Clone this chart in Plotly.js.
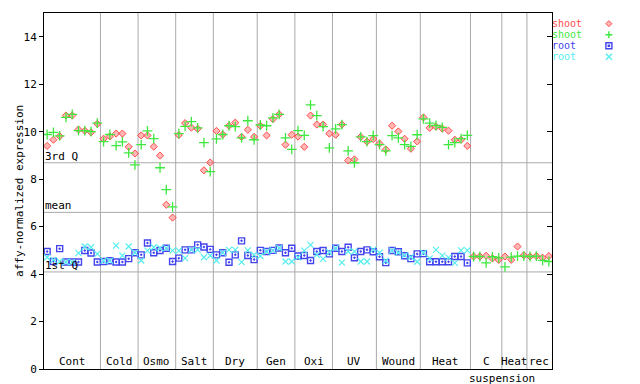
<!DOCTYPE html>
<html>
<head>
<meta charset="utf-8">
<script src="https://cdn.plot.ly/plotly-3.0.1.min.js"></script>
<style>html,body{margin:0;padding:0;background:#fff}#chart{width:640px;height:384px}</style>
</head>
<body>
<div id="chart"></div>
<script>
// Group labels and number of samples in each group
const groupNames = ["Cont","Cold","Osmo","Salt","Dry","Gen","Oxi","UV","Wound","Heat","C","Heat","rec"];
const groupSizes = [9,6,6,6,7,6,6,7,7,8,5,4,4];

// Reference lines (quantiles / mean)
const statNames = ["3rd Q","mean","1st Q"];
const statValues = [8.69, 6.60, 4.09];

// shoot replicate 1 (red diamonds)
const shootA = [9.40,9.66,9.81,10.68,10.68,10.09,10.04,9.97,10.33,
  9.70,9.80,9.92,9.92,9.36,9.08,
  9.84,9.84,9.37,8.99,6.92,6.38,
  9.86,10.36,10.17,10.12,8.37,8.70,
  10.03,9.88,10.25,10.38,9.78,10.08,9.78,
  10.25,9.84,10.53,10.73,9.45,9.87,
  9.79,9.36,10.68,10.30,10.30,9.92,
  9.87,10.30,8.79,8.83,9.78,9.58,9.69,
  9.50,9.25,10.25,10.01,9.70,9.28,9.59,
  10.60,10.16,10.21,10.13,10.04,9.66,9.66,9.40,
  4.74,4.74,4.77,4.66,4.60,
  4.74,4.60,5.16,4.79,
  4.74,4.76,4.69,4.76];

// shoot replicate 2 (green crosses)
const shootB = [9.88,9.97,9.82,10.60,10.73,10.04,10.04,10.00,10.36,
  9.58,9.88,9.41,9.57,9.11,8.60,
  9.45,10.03,9.71,8.48,7.56,6.83,
  9.92,10.22,10.42,10.16,9.54,8.32,
  9.70,9.88,10.25,10.21,9.74,10.46,9.66,
  10.28,10.25,10.58,10.73,9.74,9.25,
  10.04,9.84,11.13,10.68,10.21,9.32,
  10.12,10.30,9.19,8.69,9.78,9.58,9.83,
  9.45,9.19,9.83,9.74,9.45,9.38,9.87,
  10.54,10.36,10.26,10.18,9.45,9.54,9.71,9.84,
  4.74,4.74,4.47,4.73,4.68,
  4.30,4.71,4.76,4.76,
  4.74,4.76,4.58,4.53];

// root replicate 1 (blue squares) - no root data for suspension samples
const rootA = [4.95,4.53,5.07,4.51,4.51,4.51,4.99,4.89,4.51,
  4.53,4.56,4.51,4.51,4.65,4.90,
  4.81,5.31,4.90,4.99,5.09,4.53,
  4.67,5.02,5.02,5.23,5.14,5.04,
  4.81,4.90,4.50,4.81,5.40,4.78,4.61,
  5.00,4.95,5.00,5.10,4.90,5.09,
  4.76,4.78,4.57,4.95,4.99,4.85,
  5.09,4.95,5.13,4.69,4.95,5.02,4.94,
  4.73,4.48,4.99,4.94,4.77,4.65,4.85,
  4.86,4.52,4.52,4.52,4.52,4.74,4.74,4.47];

// root replicate 2 (cyan x)
const rootB = [4.71,4.60,4.53,4.51,4.51,4.88,5.16,5.13,4.85,
  4.56,4.56,5.20,4.78,5.16,4.90,
  4.57,4.99,5.13,5.09,5.09,4.99,
  4.99,4.67,5.02,5.02,4.71,4.78,
  4.57,4.90,5.02,5.02,4.50,5.00,4.81,
  4.76,4.95,5.00,5.10,4.53,4.53,
  4.70,4.99,5.23,4.81,4.64,4.92,
  5.09,4.48,4.95,4.95,4.53,4.53,5.03,
  4.90,4.56,4.99,4.90,4.79,4.72,4.52,
  4.90,4.66,5.02,4.78,4.69,4.47,5.00,5.00];

const seriesNames = ["shoot","shoot","root","root"];
const seriesColors = ["#ff4d4d","#3fe83f","#4444ee","#55eeee"];

const FONT = "DejaVu Sans Mono, Liberation Mono, monospace";
const idx = a => a.map((_, i) => i);
const nSamples = shootA.length;

const traces = [
  {x: idx(shootA), y: shootA, type:"scatter", mode:"markers", name:seriesNames[0],
   marker:{symbol:"diamond", size:5.5, color:"rgba(255,110,110,0.5)", line:{width:1, color:seriesColors[0]}}},
  {x: idx(shootB), y: shootB, type:"scatter", mode:"markers", name:seriesNames[1],
   marker:{symbol:"cross-thin-open", size:7, color:seriesColors[1], line:{width:1.3, color:seriesColors[1]}}},
  {x: idx(rootA), y: rootA, type:"scatter", mode:"markers", name:seriesNames[2],
   marker:{symbol:"square-open-dot", size:6, color:seriesColors[2], line:{width:1.4, color:seriesColors[2]}}},
  {x: idx(rootB), y: rootB, type:"scatter", mode:"markers", name:seriesNames[3],
   marker:{symbol:"x-thin-open", size:6, color:seriesColors[3], line:{width:1.2, color:seriesColors[3]}}},
  {x: [], y: [], yaxis:"y2", type:"scatter", mode:"markers", showlegend:false, hoverinfo:"skip"}
];

const shapes = [];
const annotations = [];
let start = 0;
groupSizes.forEach((n, g) => {
  const end = start + n;
  if (end < nSamples) {
    shapes.push({type:"line", xref:"x", yref:"paper", x0:end-0.5, x1:end-0.5, y0:0, y1:1,
      line:{color:"#aaaaaa", width:1}, layer:"below"});
  }
  annotations.push({x:(start+end-1)/2, y:0, xref:"x", yref:"y", yanchor:"bottom", yshift:-1,
    text:groupNames[g], showarrow:false, font:{family:FONT, size:11, color:"#000"}});
  start = end;
});
// "suspension" under the suspension groups
annotations.push({x:groupSizes.slice(0,11).reduce((a,b)=>a+b,0)-0.5, y:0, xref:"x", yref:"y",
  yanchor:"top", yshift:-1, text:"suspension", showarrow:false, font:{family:FONT, size:11, color:"#000"}});

statValues.forEach((v, k) => {
  shapes.push({type:"line", xref:"paper", yref:"y", x0:0, x1:1, y0:v, y1:v,
    line:{color:"#aaaaaa", width:1}, layer:"below"});
  annotations.push({x:0, y:v, xref:"paper", yref:"y", xanchor:"left", yanchor:"bottom", xshift:-1, yshift:-2,
    text:statNames[k], showarrow:false, font:{family:FONT, size:11, color:"#000"}});
});

// Legend (text then symbol), drawn at the right
const legY = [0.970, 0.939, 0.908, 0.877];
const legSym = ["diamond","cross","square","x"];
seriesNames.forEach((nm, k) => {
  annotations.push({x:0.998, y:legY[k], xref:"paper", yref:"paper", xanchor:"left", yanchor:"middle",
    text:nm, showarrow:false, borderpad:0, font:{family:FONT, size:10, color:seriesColors[k]}});
});
const lx = 1.112;
const sym = {
  diamond:"M 0 3 L 3 0 L 0 -3 L -3 0 Z",
  cross:"M -3.5 0 L 3.5 0 M 0 -3.5 L 0 3.5",
  square:"M -3 -3 L 3 -3 L 3 3 L -3 3 Z M -0.6 -0.6 L 0.6 -0.6 L 0.6 0.6 L -0.6 0.6 Z",
  x:"M -3 -3 L 3 3 M -3 3 L 3 -3"
};
legSym.forEach((s, k) => {
  shapes.push({type:"path", xref:"paper", yref:"paper", xsizemode:"pixel", ysizemode:"pixel",
    xanchor:lx, yanchor:legY[k], path:sym[s],
    fillcolor: s==="diamond" ? "rgba(255,110,110,0.5)" : "rgba(0,0,0,0)",
    line:{color:seriesColors[k], width: s==="diamond" ? 1 : 1.4}});
});

// y-axis title
annotations.push({x:-0.066, y:0.5, xref:"paper", yref:"paper", textangle:-90, showarrow:false,
  text:"affy-normalized expression", font:{family:FONT, size:11, color:"#000"}});

const layout = {
  width:640, height:384,
  margin:{l:44, r:88, t:13, b:15, pad:0},
  paper_bgcolor:"#fff", plot_bgcolor:"#fff",
  showlegend:false,
  font:{family:FONT, size:11, color:"#000"},
  xaxis:{range:[-0.5, nSamples-0.5], showticklabels:false, ticks:"", showgrid:false, zeroline:false,
    showline:true, mirror:true, linecolor:"#000", linewidth:1},
  yaxis:{range:[0,15], tickvals:[0,2,4,6,8,10,12,14], ticks:"outside", ticklen:4, tickcolor:"#000",
    showgrid:false, zeroline:false, showline:true, linecolor:"#000", linewidth:1,
    tickfont:{family:FONT, size:11, color:"#000"}},
  yaxis2:{range:[0,15], overlaying:"y", side:"right", anchor:"x", tickvals:[0,2,4,6,8,10,12,14],
    ticks:"inside", ticklen:5, tickcolor:"#000", showticklabels:false, showgrid:false, zeroline:false,
    showline:true, linecolor:"#000", linewidth:1},
  shapes:shapes,
  annotations:annotations
};

Plotly.newPlot("chart", traces, layout, {staticPlot:true, displayModeBar:false});
</script>
</body>
</html>
